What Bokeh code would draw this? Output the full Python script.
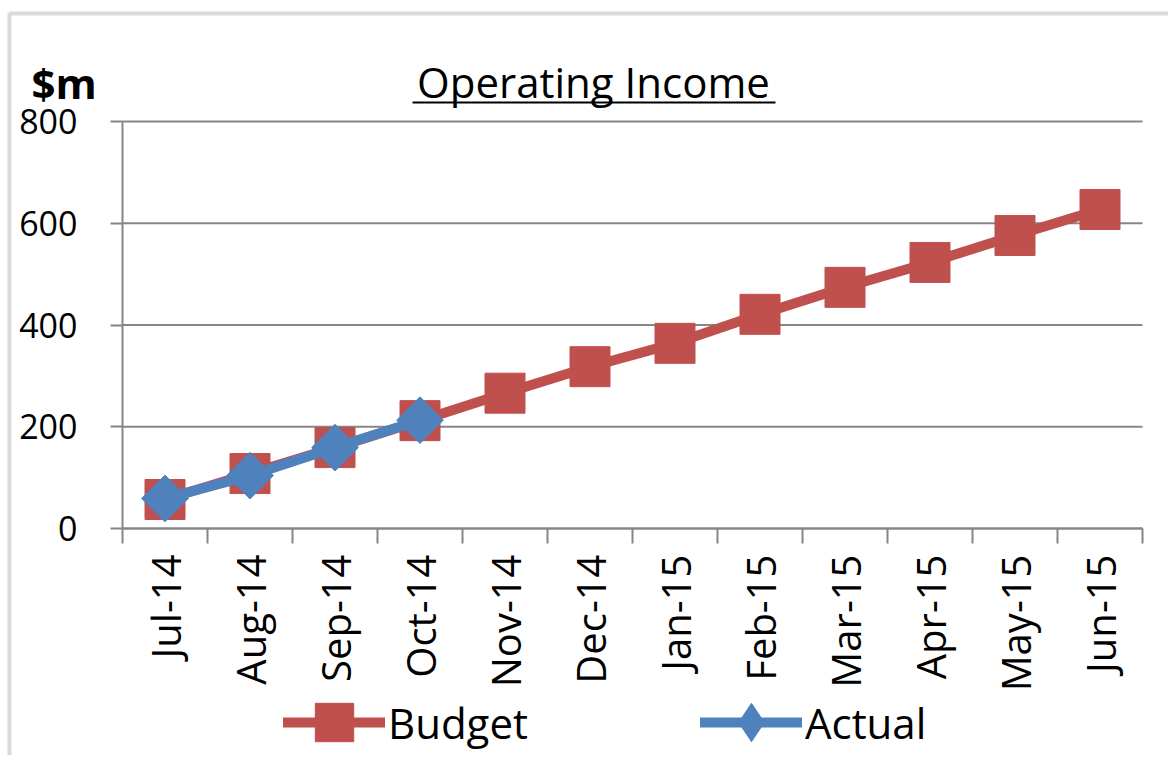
from bokeh.plotting import figure
from bokeh.models import (FixedTicker, Legend, LegendItem, Label, BoxAnnotation,
                          ColumnDataSource, Range1d)
from bokeh.embed import file_html
from bokeh.resources import INLINE
from math import pi

months = ["Jul-14", "Aug-14", "Sep-14", "Oct-14", "Nov-14", "Dec-14",
          "Jan-15", "Feb-15", "Mar-15", "Apr-15", "May-15", "Jun-15"]
budget = [57, 108, 159, 212, 266, 318, 364, 421, 474, 523, 576, 627]
actual = [59, 104, 159, 213]
y_ticks = [0, 200, 400, 600, 800]
title_text = "Operating Income"
unit_text = "$m"

RED = "#C0504D"
BLUE = "#4F81BD"
GRAY = "#868686"
FONT = "Open Sans"

# layout (pixels on the canvas)
W, H = 1168, 755
PLOT_L, PLOT_R, PLOT_T, PLOT_B = 122, 1142, 121, 528

n = len(months)
ymax = y_ticks[-1]
cat_px = (PLOT_R - PLOT_L) / n
unit_px = (PLOT_B - PLOT_T) / ymax
x_lo = -0.5 - PLOT_L / cat_px
x_hi = n - 0.5 + (W - PLOT_R) / cat_px
y_lo = -(H - PLOT_B) / unit_px
y_hi = ymax + PLOT_T / unit_px

idx = list(range(n))
src_b = ColumnDataSource(dict(x=idx, y=budget))
src_a = ColumnDataSource(dict(x=idx[:len(actual)], y=actual))

p = figure(width=W, height=H, output_backend="svg", toolbar_location=None,
           x_range=Range1d(x_lo, x_hi), y_range=Range1d(y_lo, y_hi),
           min_border=0)
p.outline_line_color = None
p.background_fill_color = "white"
p.border_fill_color = "white"
p.xgrid.grid_line_color = None
p.ygrid.grid_line_color = None

# horizontal gridlines across the plot area
p.segment(x0=[-0.5] * len(y_ticks), x1=[n - 0.5] * len(y_ticks), y0=y_ticks, y1=y_ticks,
          line_color=GRAY, line_width=2)

rb_line = p.line("x", "y", source=src_b, line_color=RED, line_width=10, line_cap="round", line_join="round")
rb_pts = p.scatter("x", "y", source=src_b, marker="square", size=40, fill_color=RED, line_color=RED)
ra_line = p.line("x", "y", source=src_a, line_color=BLUE, line_width=10, line_cap="round", line_join="round")
# diamond glyph (used for legend; covered by the rotated squares in the plot)
ra_dia = p.scatter("x", "y", source=src_a, marker="diamond", size=44, fill_color=BLUE, line_color=BLUE)
ra_pts = p.scatter("x", "y", source=src_a, marker="square", angle=pi / 4, size=33,
                   fill_color=BLUE, line_color=BLUE)

# x axis
xa = p.xaxis[0]
xa.fixed_location = 0
xa.bounds = (-0.5, n - 0.5)
xa.ticker = FixedTicker(ticks=idx, minor_ticks=[i - 0.5 for i in range(n + 1)])
xa.major_label_overrides = {i: m for i, m in zip(idx, months)}
xa.major_label_orientation = pi / 2
xa.major_tick_line_color = None
xa.major_tick_out = 0
xa.major_tick_in = 0
xa.minor_tick_line_color = GRAY
xa.minor_tick_line_width = 2
xa.minor_tick_out = 15
xa.minor_tick_in = 0
xa.axis_line_color = GRAY
xa.axis_line_width = 2
xa.major_label_standoff = 11
xa.major_label_text_font = FONT
xa.major_label_text_font_size = "40px"
xa.major_label_text_color = "black"

# y axis
ya = p.yaxis[0]
ya.fixed_location = -0.5
ya.bounds = (0, ymax)
ya.ticker = FixedTicker(ticks=y_ticks)
ya.minor_tick_line_color = None
ya.major_tick_out = 12
ya.major_tick_in = 0
ya.major_tick_line_color = GRAY
ya.major_tick_line_width = 2
ya.axis_line_color = GRAY
ya.axis_line_width = 2
ya.major_label_standoff = 33
ya.major_label_text_font = FONT
ya.major_label_text_font_size = "34px"
ya.major_label_text_color = "black"

# title & unit
p.add_layout(Label(x=593, y=81, x_units="canvas", y_units="canvas", text=title_text,
                   text_align="center", text_baseline="alphabetic", text_font=FONT,
                   text_font_size="42px", text_color="black"))
p.add_layout(BoxAnnotation(left=412, right=775, top=101, bottom=103,
                           left_units="canvas", right_units="canvas",
                           top_units="canvas", bottom_units="canvas",
                           fill_color="black", fill_alpha=1, line_color=None))
p.add_layout(Label(x=31, y=82, x_units="canvas", y_units="canvas", text=unit_text,
                   text_align="left", text_baseline="alphabetic", text_font=FONT,
                   text_font_size="42px", text_font_style="bold", text_color="black"))

# outer chart-area border
p.add_layout(BoxAnnotation(left=9, right=3000, top=13, bottom=3000,
                           left_units="canvas", right_units="canvas",
                           top_units="canvas", bottom_units="canvas",
                           fill_alpha=0, line_color="#888888", line_width=4))

legend = Legend(items=[LegendItem(label="Budget", renderers=[rb_line, rb_pts]),
                       LegendItem(label="Actual", renderers=[ra_line, ra_dia])],
                location=(283, H - 770), orientation="horizontal",
                glyph_width=102, glyph_height=96, label_standoff=3, spacing=172,
                padding=0, margin=0, border_line_color=None, background_fill_alpha=0,
                label_text_font=FONT, label_text_font_size="42px", label_text_color="black")
p.add_layout(legend, "center")

open("out.html", "w").write(file_html(p, INLINE))
